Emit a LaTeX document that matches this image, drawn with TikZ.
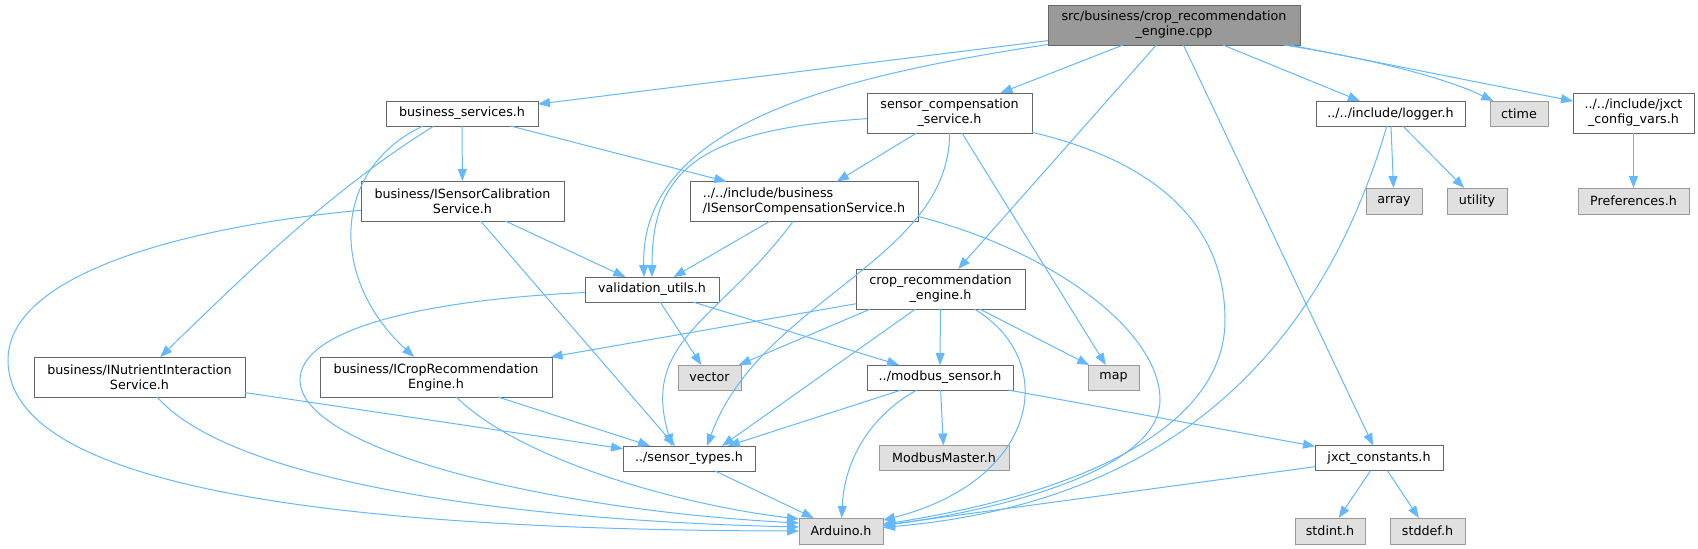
\documentclass[tikz,border=0pt]{standalone}
\usepackage{fontspec}
\setmainfont{DejaVu Sans}
\usetikzlibrary{arrows.meta}
\definecolor{edgecol}{HTML}{63B8FF}
\definecolor{boxline}{HTML}{666666}
\definecolor{extfill}{HTML}{E0E0E0}
\definecolor{extline}{HTML}{999999}
\definecolor{rootfill}{HTML}{999999}
\begin{document}
\begin{tikzpicture}[x=1pt,y=-1pt,
  box/.style={draw=boxline, fill=white, line width=1pt, inner sep=0pt, outer sep=0pt,
    font=\fontsize{12.7}{15}\selectfont, align=center, minimum height=25pt, text=black},
  box2/.style={box, minimum height=40pt},
  ext/.style={box, draw=extline, fill=extfill},
  rootbox/.style={box2, fill=rootfill},
  edge/.style={draw=edgecol, line width=1pt, -{Triangle[length=12pt,width=9pt]}}]
\useasboundingbox (0,0) rectangle (1698,549);
\node[rootbox, minimum width=252pt] (root) at (1174,25) {src/business/crop\_recommendation\\\_engine.cpp};
\node[box, minimum width=152pt] (bs) at (462,113.5) {business\_services.h};
\node[box2, minimum width=165pt] (scs) at (949.5,113) {sensor\_compensation\\\_service.h};
\node[box, minimum width=149pt] (logger) at (1390.5,113.5) {../../include/logger.h};
\node[ext, minimum width=58pt] (ctime) at (1519,113.5) {ctime};
\node[box2, minimum width=121pt] (jcv) at (1633.5,113) {../../include/jxct\\\_config\_vars.h};
\node[box2, minimum width=203pt] (iscal) at (462.5,201) {business/ISensorCalibration\\Service.h};
\node[box2, minimum width=228pt, align=left] (iscomp) at (804,201.5) {../../include/business\\/ISensorCompensationService.h};
\node[ext, minimum width=56pt, minimum height=26pt] (array) at (1394,201) {array};
\node[ext, minimum width=60pt, minimum height=26pt] (utility) at (1477,201) {utility};
\node[ext, minimum width=111pt, minimum height=26pt] (prefs) at (1633.5,201) {Preferences.h};
\node[box, minimum width=134pt] (vu) at (652,289.5) {validation\_utils.h};
\node[box2, minimum width=169pt] (cre) at (940.5,289) {crop\_recommendation\\\_engine.h};
\node[box2, minimum width=211pt] (inut) at (139.5,377) {business/INutrientInteraction\\Service.h};
\node[box2, minimum width=232pt] (icre) at (436,377) {business/ICropRecommendation\\Engine.h};
\node[ext, minimum width=63pt] (vector) at (709.5,377.5) {vector};
\node[box, minimum width=146pt] (ms) at (940,377.5) {../modbus\_sensor.h};
\node[ext, minimum width=51pt] (map) at (1113.5,377.5) {map};
\node[box, minimum width=132pt] (st) at (689,458.5) {../sensor\_types.h};
\node[ext, minimum width=130pt] (mm) at (944,458) {ModbusMaster.h};
\node[box, minimum width=128pt] (jc) at (1379,458) {jxct\_constants.h};
\node[ext, minimum width=84pt, minimum height=26pt] (ard) at (841,531) {Arduino.h};
\node[ext, minimum width=70pt, minimum height=26pt] (stdint) at (1330,531) {stdint.h};
\node[ext, minimum width=75pt, minimum height=26pt] (stddef) at (1427.5,531) {stddef.h};
% root
\draw[edge] (root) -- (bs);
\draw[edge] (root) .. controls (850,75) and (640,120) .. ([xshift=-8pt]vu.north);
\draw[edge] (root) -- (scs);
\draw[edge] (root) -- (cre);
\draw[edge] (root) -- (jc);
\draw[edge] (root) -- (logger);
\draw[edge] ([xshift=110pt]root.south) .. controls (1380,60) and (1450,80) .. (ctime);
\draw[edge] ([xshift=116pt]root.south) -- (jcv);
% business_services
\draw[edge] (bs) -- (iscal);
\draw[edge] (bs) -- (iscomp);
\draw[edge] ([xshift=-28pt]bs.south) .. controls (330,190) and (240,280) .. (inut);
\draw[edge] ([xshift=-39pt]bs.south) .. controls (330,170) and (330,280) .. (icre);
% sensor_compensation_service
\draw[edge] (scs) -- (iscomp);
\draw[edge] (scs) .. controls (700,130) and (652,170) .. (vu);
\draw[edge] (scs) .. controls (950,260) and (760,300) .. ([xshift=18pt]st.north);
\draw[edge] (scs) -- (map);
\draw[edge] (scs) .. controls (1150,160) and (1225,220) .. (1225,320) .. controls (1225,420) and (1100,490) .. (ard);
% logger, config
\draw[edge] (logger) -- (array);
\draw[edge] (logger) -- (utility);
\draw[edge] (logger) .. controls (1330,320) and (1200,500) .. (ard);
\draw[edge] (jcv) -- (prefs);
% ISensorCalibrationService
\draw[edge] (iscal) -- (vu);
\draw[edge] ([xshift=18pt]iscal.south) -- ([xshift=-14pt]st.north);
\draw[edge] (iscal) .. controls (200,225) and (8,270) .. (8,360) .. controls (8,470) and (250,530) .. (ard.west);
% ISensorCompensationService
\draw[edge] (iscomp) -- (vu);
\draw[edge] ([xshift=-11pt]iscomp.south) .. controls (720,320) and (640,340) .. ([xshift=-17pt]st.north);
\draw[edge] ([yshift=-15pt]iscomp.east) .. controls (1050,250) and (1160,330) .. (1160,400) .. controls (1160,470) and (1000,510) .. (ard);
% validation_utils
\draw[edge] (vu) -- (vector);
\draw[edge] (vu) -- (ms);
\draw[edge] (vu) .. controls (420,300) and (300,330) .. (300,380) .. controls (300,450) and (550,510) .. ([yshift=8pt]ard.west);
% crop_recommendation_engine.h
\draw[edge] (cre) -- (icre);
\draw[edge] ([xshift=-70pt]cre.south) -- (vector);
\draw[edge] (cre) -- (ms);
\draw[edge] (cre) -- (map);
\draw[edge] ([xshift=-25pt]cre.south) -- ([xshift=33pt]st.north);
\draw[edge] (cre) .. controls (1060,360) and (1040,480) .. (ard);
% interfaces
\draw[edge] (inut) -- (st);
\draw[edge] (inut) .. controls (230,480) and (500,520) .. ([yshift=4pt]ard.west);
\draw[edge] (icre) -- (st);
\draw[edge] (icre) .. controls (520,460) and (680,505) .. ([yshift=12pt]ard.west);
% modbus_sensor
\draw[edge] (ms) -- (st);
\draw[edge] (ms) .. controls (880,410) and (845,450) .. (ard);
\draw[edge] (ms) -- (mm);
\draw[edge] (ms) -- (jc);
% bottom
\draw[edge] (st) -- (ard);
\draw[edge] (jc) -- (ard);
\draw[edge] (jc) -- (stdint);
\draw[edge] (jc) -- (stddef);
\end{tikzpicture}
\end{document}
